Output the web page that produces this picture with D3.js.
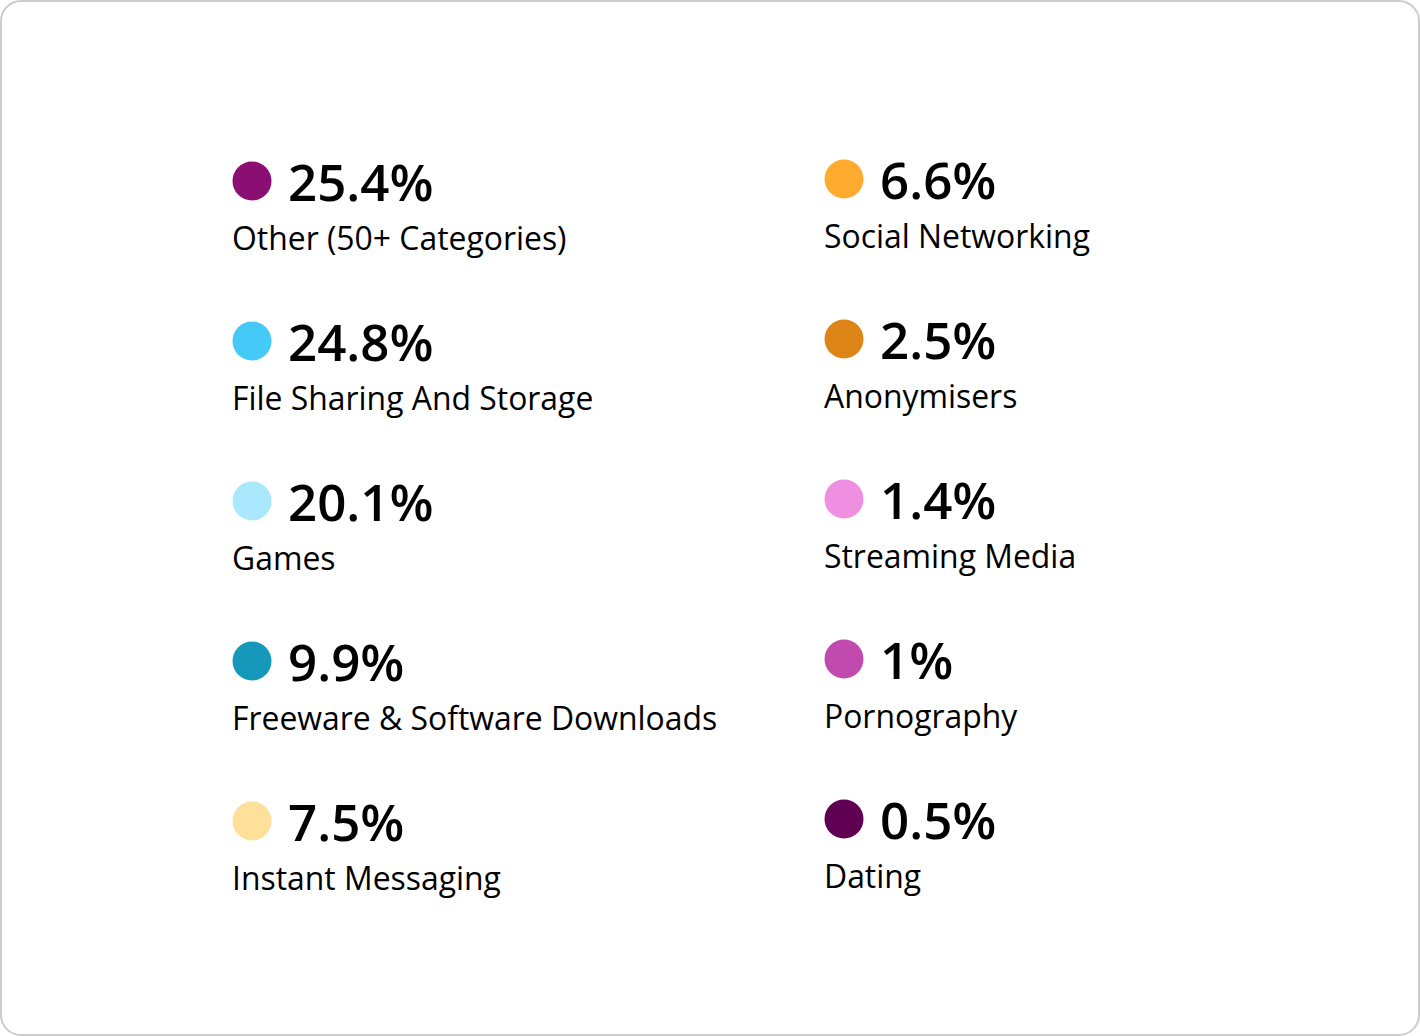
<!DOCTYPE html>
<html>
<head>
<meta charset="utf-8">
<script src="https://cdn.jsdelivr.net/npm/d3@7"></script>
<style>
  html, body { margin: 0; padding: 0; background: #ffffff; }
  svg { display: block; }
</style>
</head>
<body>
<script>
const categories = [
  "Other (50+ Categories)",
  "File Sharing And Storage",
  "Games",
  "Freeware & Software Downloads",
  "Instant Messaging",
  "Social Networking",
  "Anonymisers",
  "Streaming Media",
  "Pornography",
  "Dating"
];
const values = [25.4, 24.8, 20.1, 9.9, 7.5, 6.6, 2.5, 1.4, 1, 0.5];
const colors = [
  "#8b0e72", "#45c9f6", "#a9e8fd", "#1598b9", "#ffe09a",
  "#ffab2f", "#dd8516", "#ee8fe2", "#c14aaf", "#5f0052"
];

const W = 1420, H = 1036;
const svg = d3.select("body").append("svg").attr("width", W).attr("height", H);

svg.append("rect")
  .attr("x", 1).attr("y", 1).attr("width", W - 2).attr("height", H - 2)
  .attr("rx", 20).attr("ry", 20)
  .attr("fill", "#ffffff").attr("stroke", "#cccccc").attr("stroke-width", 2);

const rowsPerCol = 5;
const data = categories.map((c, i) => ({
  name: c, value: values[i], color: colors[i],
  col: Math.floor(i / rowsPerCol), row: i % rowsPerCol
}));

const x = d3.scalePoint().domain([0, 1]).range([252, 844]);
const y = d3.scalePoint().domain(d3.range(rowsPerCol)).range([181, 181 + 160 * 4]);

const g = svg.selectAll("g.item").data(data).enter().append("g")
  .attr("class", "item")
  .attr("transform", d => `translate(${x(d.col)},${y(d.row) - (d.col === 1 ? 2 : 0)})`);

g.append("circle").attr("r", 19.5).attr("fill", d => d.color);

g.append("text")
  .attr("x", 36).attr("y", 20)
  .attr("font-family", "'Open Sans', sans-serif")
  .attr("font-weight", 600)
  .attr("font-size", 51)
  .attr("fill", "#000000")
  .text(d => d.value + "%");

g.append("text")
  .attr("x", -20).attr("y", 69)
  .attr("font-family", "'Open Sans', sans-serif")
  .attr("font-weight", 400)
  .attr("font-size", 31.9)
  .attr("fill", "#000000")
  .text(d => d.name);
</script>
</body>
</html>
